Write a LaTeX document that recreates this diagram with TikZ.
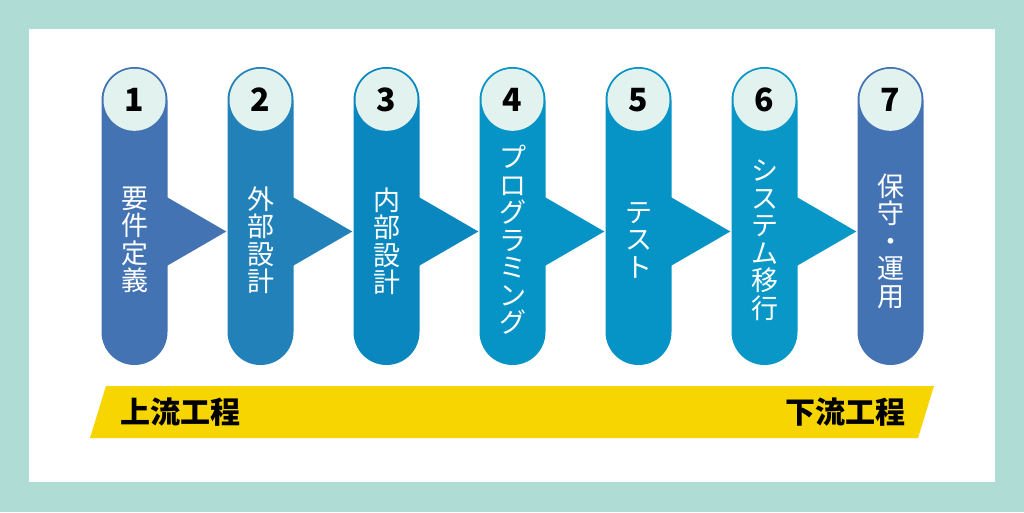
\documentclass[tikz,border=0pt]{standalone}
\usepackage{fontspec}
\newfontfamily\jp{Noto Sans CJK JP}
\usetikzlibrary{calc}
\definecolor{bgteal}{HTML}{AFDCD5}
\definecolor{circfill}{HTML}{E2F2EF}
\definecolor{c1}{HTML}{4373B3}
\definecolor{c2}{HTML}{2281B9}
\definecolor{c3}{HTML}{0A87BE}
\definecolor{c4}{HTML}{0693C5}
\definecolor{c5}{HTML}{0694C6}
\definecolor{c6}{HTML}{0897C6}
\definecolor{c7}{HTML}{4373B3}
\definecolor{baryellow}{HTML}{F7D500}
\tikzset{
  pill/.style={rectangle, rounded corners=33pt, minimum width=66pt, minimum height=298pt, inner sep=0pt},
  numc/.style={circle, minimum size=62pt, inner sep=0pt, fill=circfill, text=black, font=\jp\bfseries\fontsize{32}{32}\selectfont},
  lbl/.style={text=white, align=center, inner sep=0pt, font=\jp\fontsize{27}{27.5}\selectfont},
  barlbl/.style={text=black, inner sep=0pt, font=\jp\bfseries\fontsize{30}{30}\selectfont}
}
\begin{document}
\begin{tikzpicture}[x=1pt,y=-1pt]
\useasboundingbox (0,0) rectangle (1024,512);
\fill[bgteal] (0,0) rectangle (1024,512);
\fill[white] (29,29) rectangle (995,482);
% pills
\foreach \i in {1,...,7}{
  \node[pill, fill=c\i] (p\i) at ({134.5+126*(\i-1)},216) {};
}
% arrows
\foreach \i/\j in {1/2,2/3,3/4,4/5,5/6,6/7}{
  \fill[c\i] ($(p\i.east)+(-1,-19)$) -- ($(p\j.west)+(-1,15.5)$) -- ($(p\i.east)+(-1,50)$) -- cycle;
}
% number circles
\foreach \i in {1,...,7}{
  \node[numc] (n\i) at ($(p\i.north)+(0,33)$) {\i};
}
% labels
\node[lbl] (t1) at (134.5,240) {要\\件\\定\\義};
\node[lbl] (t2) at (260.5,240) {外\\部\\設\\計};
\node[lbl] (t3) at (386.5,241) {内\\部\\設\\計};
\node[lbl] (t4) at (512.5,240) {プ\\ロ\\グ\\ラ\\ミ\\ン\\グ};
\node[lbl] (t5) at (638.5,240) {テ\\ス\\ト};
\node[lbl] (t6) at (764.5,240) {シ\\ス\\テ\\ム\\移\\行};
\node[lbl] (t7) at (890.5,241) {保\\守\\・\\運\\用};
% yellow bar
\fill[baryellow] (90,438) -- (106,386) -- (934,386) -- (918,438) -- cycle;
\node[barlbl, anchor=west] (up) at (120,412) {上流工程};
\node[barlbl, anchor=east] (down) at (906,412) {下流工程};
\end{tikzpicture}
\end{document}
